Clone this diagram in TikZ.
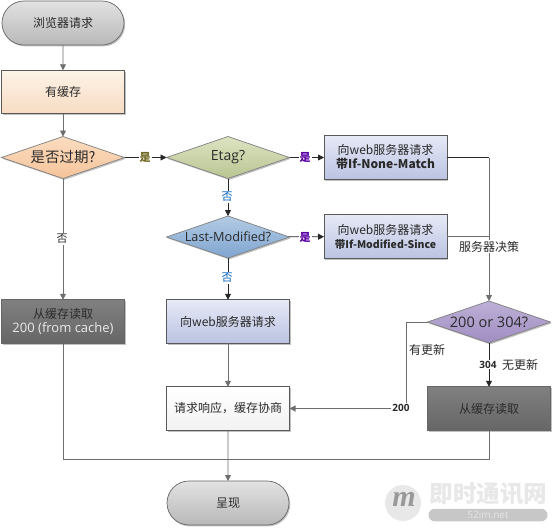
\documentclass[tikz,border=0pt]{standalone}
\usepackage{fontspec}
\setmainfont{Noto Sans CJK SC}
\newfontfamily\lat{Open Sans}
\usetikzlibrary{shapes.geometric,shapes.misc,arrows.meta,shadows,calc}
\definecolor{ln}{HTML}{6E6E6E}
\definecolor{shc}{HTML}{A8A8A8}
\definecolor{greyT}{HTML}{E2E2E2}\definecolor{greyB}{HTML}{B8B8B8}
\definecolor{orT}{HTML}{FDF3E8}\definecolor{orB}{HTML}{F7DCC2}
\definecolor{dorT}{HTML}{FBDCC0}\definecolor{dorB}{HTML}{F5C49A}
\definecolor{olT}{HTML}{DDE3C2}\definecolor{olB}{HTML}{B9C592}
\definecolor{blT}{HTML}{B3CBE4}\definecolor{blB}{HTML}{7FA5D0}
\definecolor{rqT}{HTML}{E6E9F6}\definecolor{rqB}{HTML}{BBC3E2}
\definecolor{puT}{HTML}{BDB0D6}\definecolor{puB}{HTML}{A08DC2}
\definecolor{dkT}{HTML}{808080}\definecolor{dkB}{HTML}{666666}
\definecolor{txt}{HTML}{2A2A2A}
\tikzset{
  x=1pt,y=-1pt,
  every node/.style={inner sep=0pt,outer sep=0pt,align=center,font=\fontsize{12}{14}\selectfont,text=txt},
  shad/.style={drop shadow={shadow xshift=1.2pt,shadow yshift=-1.4pt,fill=shc,opacity=.7}},
  rbox/.style={rectangle,minimum width=123pt,minimum height=43.5pt,draw=#1,line width=.7pt,shad},
  dia/.style={diamond,aspect=2.95,minimum width=123pt,minimum height=42pt,draw=#1,line width=.7pt,shad,font=\fontsize{14.5}{16}\selectfont},
  pill/.style={rounded rectangle,minimum width=122pt,minimum height=44pt,draw=#1,line width=.7pt,shad},
  conn/.style={draw=ln,line width=.9pt,-{Triangle[length=6pt,width=6pt]}},
  plain/.style={draw=ln,line width=.9pt},
  dk/.style={draw=black!85,line width=.8pt,-{Triangle[length=6pt,width=6pt]}},
  lab/.style={fill=white,inner sep=1pt,font=\fontsize{11}{12}\selectfont},
  lab2/.style={inner sep=0pt,font=\fontsize{12}{13}\selectfont},
  yes/.style={lab,font=\bfseries\fontsize{11}{12}\selectfont},
  num/.style={lab,font=\lat\bfseries\fontsize{10}{12}\selectfont},
}
\begin{document}
\begin{tikzpicture}
\useasboundingbox (0,0) rectangle (554,528);
\fill[white] (0,0) rectangle (554,528);
% nodes
\node[pill=black!60,top color=greyT,bottom color=greyB] (start) at (63,23) {浏览器请求};
\node[rbox=black!65,top color=orT,bottom color=orB] (cache) at (63,92) {有缓存};
\node[dia=black!50,top color=dorT,bottom color=dorB] (exp) at (63,157.5) {是否过期?};
\node[dia=black!50,top color=olT,bottom color=olB,font=\lat\fontsize{14}{16}\selectfont] (etag) at (228,157.5) {Etag?};
\node[dia=black!50,top color=blT,bottom color=blB,font=\lat\fontsize{12.7}{14}\selectfont] (lm) at (228,237) {Last-Modified?};
\node[rbox=black!65,top color=rqT,bottom color=rqB] (reqa) at (385.5,157.5) {向web服务器请求\\\textbf{带If-None-Match}};
\node[rbox=black!65,top color=rqT,bottom color=rqB] (reqb) at (385.5,236.5) {向web服务器请求\\\textbf{\fontsize{10.5}{14}\selectfont 带If-Modified-Since}};
\node[dia=black!50,top color=puT,bottom color=puB,font=\lat\fontsize{14.5}{16}\selectfont] (code) at (489,322) {200 or 304?};
\node[rbox=black!60,top color=dkT,bottom color=dkB] (readl) at (63,321.5) {从缓存读取\\\textcolor{white!92!black}{\lat\fontsize{13}{14}\selectfont 200 (from cache)}};
\node[rbox=black!65,top color=rqT,bottom color=rqB] (req) at (228,321.5) {向web服务器请求};
\node[rbox=black!65,top color=white,bottom color=black!5] (resp) at (228,408.5) {请求响应，缓存协商};
\node[rbox=black!60,top color=dkT,bottom color=dkB] (readr) at (489,408.5) {从缓存读取};
\node[pill=black!60,top color=greyT,bottom color=greyB] (show) at (228,503) {呈现};
% junctions
\coordinate (ja) at (489,157.5);
\coordinate (jb) at (489,236.5);
\coordinate (jc) at (406,322);
\coordinate (jd) at (406,408.5);
\coordinate (je) at (63,459);
\coordinate (jf) at (228,459);
\coordinate (jg) at (489,459);
% connectors
\draw[conn] (start) -- (cache);
\draw[conn] (cache) -- (exp);
\draw[conn] (exp) -- (readl);
\draw[dk] (exp) -- (etag);
\draw[dk] (etag) -- (lm);
\draw[dk] (etag) -- (reqa);
\draw[dk] (lm) -- (reqb);
\draw[dk] (lm) -- (req);
\draw[draw=black!85,line width=.8pt] (reqa) -- (ja);
\draw[plain] (reqb) -- (jb);
\draw[conn] (ja) -- (code);
\draw[conn] (req) -- (resp);
\draw[conn] (resp) -- (show);
\draw[plain] (readl.south) -- (je) -- (jg) -- (readr.south);
\draw[plain] (code) -- (jc) -- (jd);
\draw[conn,line width=1.2pt] (jd) -- (resp);
\draw[dk] (code) -- (readr);
% labels
\node[yes,text=olive!70!black] (l1) at (145,157.5) {是};
\node[yes,text=violet!70!blue] (l2) at (305,157.5) {是};
\node[yes,text=violet!70!blue] (l3) at (305,237) {是};
\node[lab,text=blue!50!cyan!75!black] (l4) at (227,197) {否};
\node[lab,text=blue!50!cyan!75!black] (l5) at (227,278) {否};
\node[lab] (l6) at (62,239) {否};
\node[lab,font=\fontsize{12}{13}\selectfont] (l7) at (489,246.5) {服务器决策};
\node[lab2] (l8) at (427,350) {有更新};
\node[lab2] (l9) at (520,365) {无更新};
\node[num] (l10) at (488,364.5) {304};
\node[num] (l11) at (401,408) {200};
% watermark
\fill[black!9] (403,503) circle (18);
\node[text=black!40,font=\bfseries\itshape\fontsize{30}{30}\selectfont] (wm) at (404,499) {\fontspec[Scale=1]{Liberation Serif}[Weight=Bold]m};
\node[text=black!9,font=\bfseries\fontsize{23.5}{24}\selectfont] (wt) at (488.5,494) {即时通讯网};
\node[rounded rectangle,fill=black!22,minimum width=119pt,minimum height=12.5pt,text=black!10,font=\lat\fontsize{10}{12}\selectfont] (wu) at (488,515) {52im.net};
\end{tikzpicture}
\end{document}
